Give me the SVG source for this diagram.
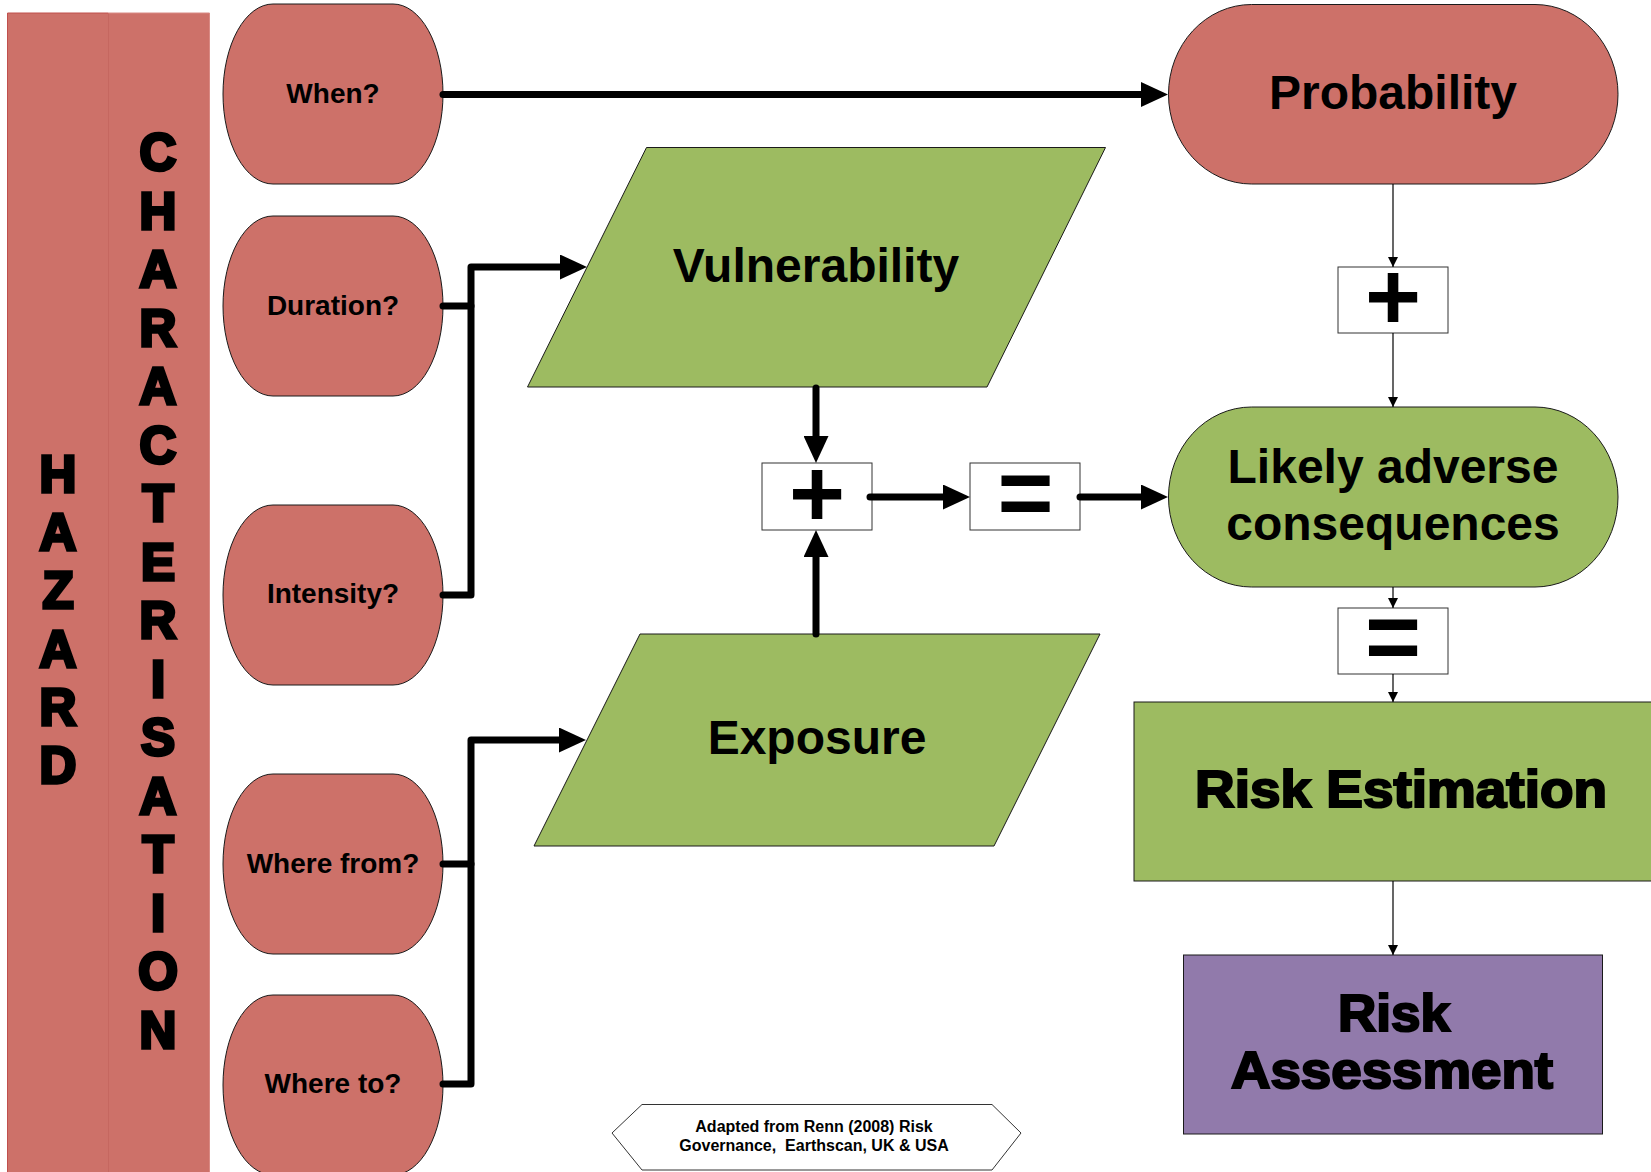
<svg xmlns="http://www.w3.org/2000/svg" width="1651" height="1172" viewBox="0 0 1651 1172">
  <style>
    text { font-family: "Liberation Sans", Arial, Helvetica, sans-serif; font-weight: bold; fill: #000; }
    .q { font-size: 28px; text-anchor: middle; }
    .big { font-size: 48px; text-anchor: middle; }
    .heavy { font-size: 52px; text-anchor: middle; stroke: #000; stroke-width: 2.2; }
    .col { font-size: 51px; text-anchor: middle; stroke: #000; stroke-width: 3.4; }
    .sym { font-size: 96px; text-anchor: middle; }
    .note { font-size: 16px; text-anchor: middle; }
    .red { fill: #CD7169; stroke: #1a1a1a; stroke-width: 1; }
    .green { fill: #9DBB61; stroke: #1a1a1a; stroke-width: 1; }
    .purple { fill: #917AAB; stroke: #1a1a1a; stroke-width: 1; }
    .op { fill: #ffffff; stroke: #333333; stroke-width: 1; }
    .thick { fill: none; stroke: #000; stroke-width: 7; stroke-linecap: round; stroke-linejoin: round; }
    .thin { fill: none; stroke: #000; stroke-width: 1.2; }
  </style>
  <defs>
    <marker id="bigHead" markerUnits="userSpaceOnUse" viewBox="0 0 27 25" markerWidth="27" markerHeight="25" refX="9" refY="12.5" orient="auto">
      <path d="M0,0 L27,12.5 L0,25 Z" fill="#000"/>
    </marker>
    <marker id="smallHead" markerUnits="userSpaceOnUse" viewBox="0 0 10 10" markerWidth="10" markerHeight="10" refX="10" refY="5" orient="auto">
      <path d="M0,0 L10,5 L0,10 Z" fill="#000"/>
    </marker>
  </defs>

  <!-- side banner -->
  <g id="banner">
    <rect x="7.5" y="13" width="202" height="1170" fill="#CD7169"/>
    <path d="M7.5,1183 V13 H108.5" fill="none" stroke="#C0504D" stroke-width="1"/>
    <path d="M108.5,13 V1172" fill="none" stroke="#C56760" stroke-width="1"/>
    <path d="M108.5,13 H209.5 V1172" fill="none" stroke="#D98A84" stroke-width="1"/>
    <text class="col">
      <tspan x="58" y="492">H</tspan><tspan x="58" dy="58.2">A</tspan><tspan x="58" dy="58.2">Z</tspan><tspan x="58" dy="58.2">A</tspan><tspan x="58" dy="58.2">R</tspan><tspan x="58" dy="58.2">D</tspan>
    </text>
    <text class="col">
      <tspan x="158" y="170">C</tspan><tspan x="158" dy="58.5">H</tspan><tspan x="158" dy="58.5">A</tspan><tspan x="158" dy="58.5">R</tspan><tspan x="158" dy="58.5">A</tspan><tspan x="158" dy="58.5">C</tspan><tspan x="158" dy="58.5">T</tspan><tspan x="158" dy="58.5">E</tspan><tspan x="158" dy="58.5">R</tspan><tspan x="158" dy="58.5">I</tspan><tspan x="158" dy="58.5">S</tspan><tspan x="158" dy="58.5">A</tspan><tspan x="158" dy="58.5">T</tspan><tspan x="158" dy="58.5">I</tspan><tspan x="158" dy="58.5">O</tspan><tspan x="158" dy="58.5">N</tspan>
    </text>
  </g>

  <!-- hazard questions -->
  <g id="when">
    <path class="red" d="M273,4 H393 A50,90 0 0 1 393,184 H273 A50,90 0 0 1 273,4 Z"/>
    <text class="q" x="333" y="103">When?</text>
  </g>
  <g id="duration">
    <path class="red" d="M273,216 H393 A50,90 0 0 1 393,396 H273 A50,90 0 0 1 273,216 Z"/>
    <text class="q" x="333" y="315">Duration?</text>
  </g>
  <g id="intensity">
    <path class="red" d="M273,505 H393 A50,90 0 0 1 393,685 H273 A50,90 0 0 1 273,505 Z"/>
    <text class="q" x="333" y="603">Intensity?</text>
  </g>
  <g id="where-from">
    <path class="red" d="M273,774 H393 A50,90 0 0 1 393,954 H273 A50,90 0 0 1 273,774 Z"/>
    <text class="q" x="333" y="873">Where from?</text>
  </g>
  <g id="where-to">
    <path class="red" d="M273,995 H393 A50,90 0 0 1 393,1175 H273 A50,90 0 0 1 273,995 Z"/>
    <text class="q" x="333" y="1093">Where to?</text>
  </g>

  <!-- middle column -->
  <g id="vulnerability">
    <polygon class="green" points="646.5,147.5 1105.5,147.5 987,387 527.5,387"/>
    <text class="big" x="816" y="282">Vulnerability</text>
  </g>
  <g id="exposure">
    <polygon class="green" points="640,634 1100,634 994,846 534,846"/>
    <text class="big" x="817" y="754">Exposure</text>
  </g>
  <g id="plus-mid">
    <rect class="op" x="762" y="463" width="110" height="67"/>
    <text class="sym" x="817" y="527">+</text>
  </g>
  <g id="equals-mid">
    <rect class="op" x="970" y="463" width="110" height="67"/>
    <text class="sym" x="1025.5" y="526">=</text>
  </g>

  <!-- right column -->
  <g id="probability">
    <rect class="red" x="1168.5" y="4.5" width="449.5" height="179.5" rx="83" ry="90"/>
    <text class="big" x="1393" y="109">Probability</text>
  </g>
  <g id="plus-right">
    <rect class="op" x="1338" y="267" width="110" height="66"/>
    <text class="sym" x="1393" y="330">+</text>
  </g>
  <g id="consequences">
    <rect class="green" x="1168.5" y="407" width="449.5" height="180" rx="83" ry="90"/>
    <text class="big" x="1393" y="483">Likely adverse</text>
    <text class="big" x="1393" y="540">consequences</text>
  </g>
  <g id="equals-right">
    <rect class="op" x="1338" y="608" width="110" height="66"/>
    <text class="sym" x="1393" y="670">=</text>
  </g>
  <g id="risk-estimation">
    <rect class="green" x="1134" y="702" width="540" height="179"/>
    <text class="heavy" x="1401" y="807" textLength="412" lengthAdjust="spacingAndGlyphs">Risk Estimation</text>
  </g>
  <g id="risk-assessment">
    <rect class="purple" x="1183.5" y="955" width="419" height="179"/>
    <text class="heavy" x="1394" y="1031" textLength="112" lengthAdjust="spacingAndGlyphs">Risk</text>
    <text class="heavy" x="1392" y="1088" textLength="322" lengthAdjust="spacingAndGlyphs">Assessment</text>
  </g>

  <!-- source note -->
  <g id="source">
    <polygon points="612,1133 642,1104.5 992,1104.5 1021,1133 992,1170 642,1170" fill="#ffffff" stroke="#333333" stroke-width="1"/>
    <text class="note" x="814" y="1132">Adapted from Renn (2008) Risk</text>
    <text class="note" x="814" y="1151" xml:space="preserve">Governance,  Earthscan, UK &amp; USA</text>
  </g>

  <!-- connectors -->
  <g id="connectors">
    <path class="thick" d="M443,94.5 H1150" marker-end="url(#bigHead)"/>
    <path class="thick" d="M443,306 H471 V267 H569" marker-end="url(#bigHead)"/>
    <path class="thick" d="M443,595 H471 V306"/>
    <path class="thick" d="M443,864 H471 V740 H568" marker-end="url(#bigHead)"/>
    <path class="thick" d="M443,1084 H471 V864"/>
    <path class="thick" d="M816,388 V445" marker-end="url(#bigHead)"/>
    <path class="thick" d="M816,634 V548" marker-end="url(#bigHead)"/>
    <path class="thick" d="M870,497 H952" marker-end="url(#bigHead)"/>
    <path class="thick" d="M1080,497 H1150" marker-end="url(#bigHead)"/>
    <path class="thin" d="M1393,184 V267" marker-end="url(#smallHead)"/>
    <path class="thin" d="M1393,333 V407" marker-end="url(#smallHead)"/>
    <path class="thin" d="M1393,587 V608" marker-end="url(#smallHead)"/>
    <path class="thin" d="M1393,674 V702" marker-end="url(#smallHead)"/>
    <path class="thin" d="M1393,881 V955" marker-end="url(#smallHead)"/>
  </g>
</svg>
